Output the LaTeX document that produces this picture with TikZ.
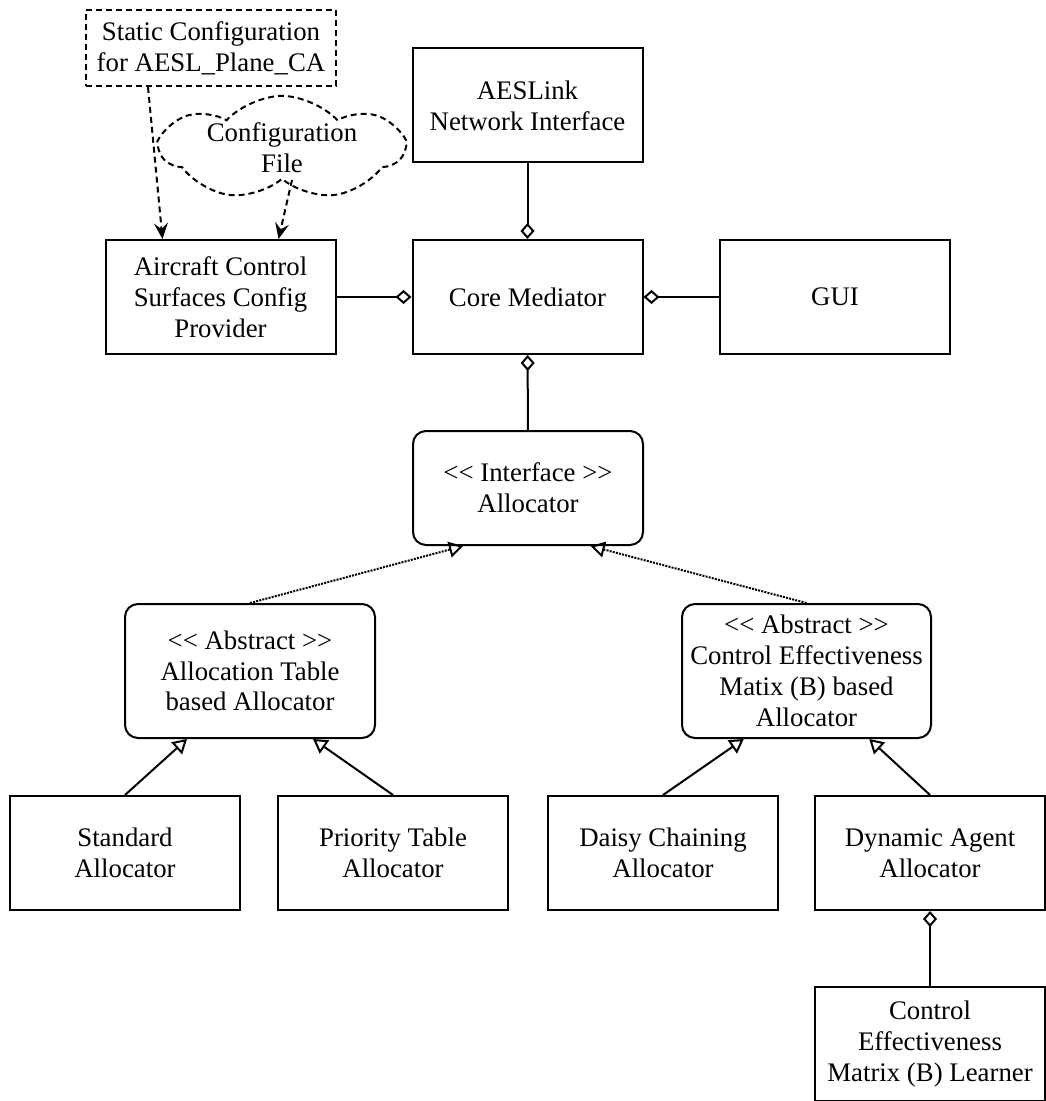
\documentclass[tikz,border=0pt]{standalone}
\usepackage{fontspec}
\setmainfont{Liberation Serif}
\usetikzlibrary{arrows.meta,positioning,calc,shapes.symbols}
\newcommand{\uopen}{<\kern0pt<}
\newcommand{\uclose}{>\kern0pt>}
\tikzset{
	ubox/.style={draw=black, line width=1pt, minimum width=115pt,
		minimum height=57pt, inner sep=2pt, align=center, fill=white,
		font=\fontsize{13.4}{15.4}\selectfont},
	uround/.style={ubox, rounded corners=6.5pt},
	unote/.style={ubox, dash pattern=on 3pt off 2pt},
	ucloud/.style={cloud, cloud puffs=7, cloud puff arc=95, cloud ignores aspect,
		draw=black, line width=1pt, dash pattern=on 3pt off 2pt,
		minimum width=121pt, minimum height=48pt, inner sep=0pt, align=center,
		font=\fontsize{13.4}{15.4}\selectfont},
	uagg/.style={-{Diamond[open,length=8pt,width=7pt]}, line width=1pt},
	uinh/.style={-{Triangle[open,length=7pt,width=8pt]}, line width=1pt},
	ureal/.style={-{Triangle[open,length=7pt,width=8pt]}, line width=1pt,
		dash pattern=on 1pt off 0.6pt},
	udep/.style={-{Stealth[length=8pt,width=7pt,inset=3pt]}, line width=1pt,
		dash pattern=on 3pt off 2pt},
}

\begin{document}
\begin{tikzpicture}[x=0.5pt, y=-0.5pt]
	\useasboundingbox (0,0) rectangle (1045,1101);
	\node[unote, minimum width=125pt, minimum height=38pt] (static) at (211,48) {Static Configuration\\for AESL\_Plane\_CA};
	\node[ucloud] (cfgfile) at (282,148) {Configuration\\File};
	\node[ubox] (aes) at (527.5,105.5) {AESLink\\Network Interface};
	\node[ubox] (acs) at (220.5,297) {Aircraft Control\\Surfaces Config\\Provider};
	\node[ubox] (core) at (527.5,297) {Core Mediator};
	\node[ubox] (gui) at (835,297) {GUI};
	\node[uround] (iface) at (528,488) {\uopen{} Interface \uclose\\Allocator};
	\node[uround, minimum width=125pt, minimum height=67pt] (abstab) at (250,671) {\uopen{} Abstract \uclose\\Allocation Table\\based Allocator};
	\node[uround, minimum width=124.5pt, minimum height=67pt] (abseff) at (806.5,671) {\uopen{} Abstract \uclose\\Control Effectiveness\\Matix (B) based\\Allocator};
	\node[ubox] (std) at (125,853) {Standard\\Allocator};
	\node[ubox] (prio) at (393,853) {Priority Table\\Allocator};
	\node[ubox] (daisy) at (663,853) {Daisy Chaining\\Allocator};
	\node[ubox] (dyn) at (930,853) {Dynamic Agent\\Allocator};
	\node[ubox] (learner) at (930,1044) {Control\\Effectiveness\\Matrix (B) Learner};
	\draw[udep] ($(static.south west)!0.25!(static.south east)$) -- ($(acs.north west)!0.25!(acs.north east)$);
	\draw[udep] ([xshift=5pt]cfgfile.south) -- ($(acs.north west)!0.75!(acs.north east)$);
	\draw[uagg] (aes) -- (core);
	\draw[uagg] (acs) -- (core);
	\draw[uagg] (gui) -- (core);
	\draw[uagg] (iface) -- (core);
	\draw[uagg] (learner) -- (dyn);
	\draw[ureal] (abstab.north) -- ($(iface.south west)!0.22!(iface.south east)$);
	\draw[ureal] (abseff.north) -- ($(iface.south west)!0.77!(iface.south east)$);
	\draw[uinh] (std.north) -- ($(abstab.south west)!0.25!(abstab.south east)$);
	\draw[uinh] (prio.north) -- ($(abstab.south west)!0.75!(abstab.south east)$);
	\draw[uinh] (daisy.north) -- ($(abseff.south west)!0.25!(abseff.south east)$);
	\draw[uinh] (dyn.north) -- ($(abseff.south west)!0.75!(abseff.south east)$);
\end{tikzpicture}
\end{document}
